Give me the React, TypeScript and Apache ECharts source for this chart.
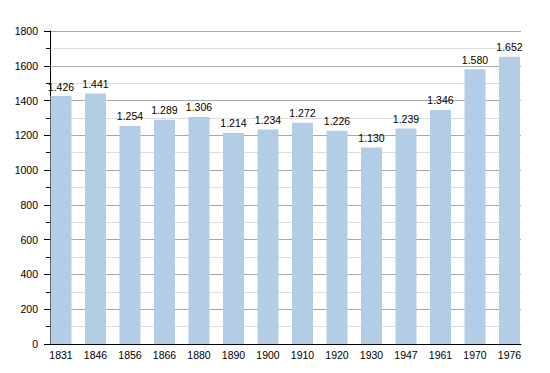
import React, { useEffect, useRef } from "react";
import * as echarts from "echarts";

const years = ["1831", "1846", "1856", "1866", "1880", "1890", "1900", "1910", "1920", "1930", "1947", "1961", "1970", "1976"];
const population = [1426, 1441, 1254, 1289, 1306, 1214, 1234, 1272, 1226, 1130, 1239, 1346, 1580, 1652];
const yTicks = [0, 200, 400, 600, 800, 1000, 1200, 1400, 1600, 1800];

const fmt = (v: number) => {
  const s = String(v);
  return s.length > 3 ? s.slice(0, s.length - 3) + "." + s.slice(s.length - 3) : s;
};

const FONT = "Liberation Sans, Arial, Helvetica, sans-serif";

export default function App() {
  const ref = useRef<HTMLDivElement>(null);
  useEffect(() => {
    if (!ref.current) return;
    const chart = echarts.init(ref.current, undefined, { renderer: "svg" });
    const yMin = yTicks[0];
    const yMax = yTicks[yTicks.length - 1];
    chart.setOption({
      animation: false,
      backgroundColor: "#ffffff",
      grid: [
        { left: 50, right: 29, top: 31, bottom: 29, containLabel: false },
        { left: 61, right: 40.5, top: 31, bottom: 29, containLabel: false },
      ],
      xAxis: [
        {
          gridIndex: 0,
          type: "category",
          data: years,
          axisLine: { lineStyle: { color: "#000", width: 1 } },
          axisTick: { show: false },
          axisLabel: { show: false },
          splitLine: { show: false },
          z: 5,
        },
        {
          gridIndex: 1,
          type: "category",
          boundaryGap: false,
          data: years,
          axisLine: { show: false },
          axisTick: { show: false },
          splitLine: { show: false },
          axisLabel: { color: "#000", fontSize: 10.5, fontFamily: FONT, margin: 5 },
        },
      ],
      yAxis: [
        {
          gridIndex: 0,
          type: "value",
          min: yMin,
          max: yMax,
          interval: 200,
          axisLine: { show: true, lineStyle: { color: "#000", width: 1 } },
          axisTick: { show: true, length: 6, lineStyle: { color: "#000" } },
          minorTick: { show: true, splitNumber: 2, length: 4, lineStyle: { color: "#000" } },
          splitLine: { show: true, lineStyle: { color: "#a8a8a8", width: 1 } },
          minorSplitLine: { show: true, lineStyle: { color: "#dedede", width: 1 } },
          axisLabel: { color: "#000", fontSize: 10.5, fontFamily: FONT, margin: 12, formatter: (v: number) => String(v) },
        },
        {
          gridIndex: 1,
          type: "value",
          min: yMin,
          max: yMax,
          interval: 200,
          axisLine: { show: false },
          axisTick: { show: false },
          splitLine: { show: false },
          axisLabel: { show: false },
        },
      ],
      series: [
        {
          type: "bar",
          xAxisIndex: 1,
          yAxisIndex: 1,
          data: population,
          barWidth: 21,
          clip: false,
          z: 3,
          itemStyle: { color: "#b3cde6" },
          label: {
            show: true,
            position: "top",
            distance: 4,
            color: "#000",
            fontSize: 10.5,
            fontFamily: FONT,
            formatter: (p: any) => fmt(p.value),
          },
        },
      ],
    });
    return () => chart.dispose();
  }, []);
  return <div ref={ref} style={{ width: 550, height: 373, position: "absolute", left: 0, top: 0 }} />;
}
